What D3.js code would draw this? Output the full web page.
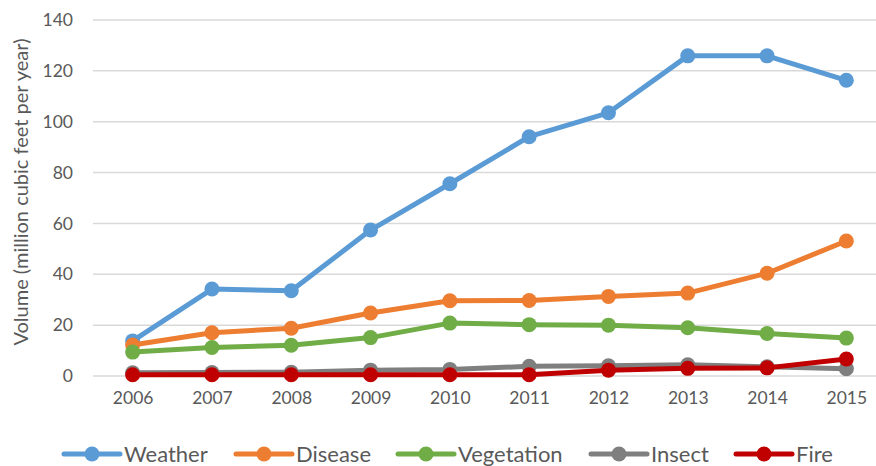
<!DOCTYPE html>
<html>
<head>
<meta charset="utf-8">
<script src="https://cdn.jsdelivr.net/npm/d3@7/dist/d3.min.js"></script>
<style>
  html, body { margin: 0; padding: 0; background: #fff; }
  svg { display: block; font-family: Lato, "Open Sans", sans-serif; }
</style>
</head>
<body>
<svg id="chart" width="876" height="466"></svg>
<script>
// Annual volume by cause, million cubic feet per year
const years = ["2006","2007","2008","2009","2010","2011","2012","2013","2014","2015"];
const weather    = [13.8, 34.2, 33.5, 57.4, 75.6, 94.1, 103.5, 125.9, 125.9, 116.3];
const disease    = [12.2, 17.0, 18.8, 24.8, 29.6, 29.7, 31.3, 32.6, 40.4, 53.1];
const vegetation = [9.4, 11.2, 12.1, 15.1, 20.8, 20.2, 20.0, 19.0, 16.7, 14.9];
const insect     = [1.3, 1.4, 1.5, 2.3, 2.6, 3.8, 4.0, 4.4, 3.6, 2.9];
const fire       = [0.5, 0.5, 0.5, 0.5, 0.5, 0.5, 2.3, 3.0, 3.2, 6.7];
const yTicks = [0, 20, 40, 60, 80, 100, 120, 140];
const seriesNames = ["Weather", "Disease", "Vegetation", "Insect", "Fire"];
const seriesColors = ["#5B9BD5", "#ED7D31", "#70AD47", "#7F7F7F", "#C00000"];

const series = [weather, disease, vegetation, insect, fire].map((v, i) => ({
  name: seriesNames[i], color: seriesColors[i], values: v
}));

const svg = d3.select("#chart");
const plotLeft = 93, plotRight = 886, plotTop = 20, plotBottom = 376;

const x = d3.scalePoint().domain(years).range([plotLeft, plotRight]).padding(0.5);
const y = d3.scaleLinear().domain([0, 140]).range([plotBottom, plotTop]);

// Horizontal gridlines
svg.append("g")
  .selectAll("line")
  .data(yTicks)
  .join("line")
  .attr("x1", plotLeft).attr("x2", 876)
  .attr("y1", d => y(d)).attr("y2", d => y(d))
  .attr("stroke", "#D9D9D9").attr("stroke-width", 1.5);

// Y axis labels
const yAxis = svg.append("g")
  .attr("transform", `translate(${plotLeft},0)`)
  .call(d3.axisLeft(y).tickValues(yTicks).tickSize(0).tickPadding(20));
yAxis.select(".domain").remove();
yAxis.selectAll("text")
  .attr("fill", "#595959").style("font-size", "17.5px").style("font-family", "Lato, sans-serif");

// X axis labels
const xAxis = svg.append("g")
  .attr("transform", `translate(0,${plotBottom})`)
  .call(d3.axisBottom(x).tickSize(0).tickPadding(16));
xAxis.select(".domain").remove();
xAxis.selectAll("text")
  .attr("fill", "#595959").style("font-size", "17.5px").style("font-family", "Lato, sans-serif");

// Y axis title
svg.append("text")
  .attr("transform", "translate(28,192) rotate(-90)")
  .attr("text-anchor", "middle")
  .attr("fill", "#595959")
  .style("font-size", "20px")
  .text("Volume (million cubic feet per year)");

// Series lines and markers
const line = d3.line().x((d, i) => x(years[i])).y(d => y(d));
const plot = svg.append("g");
series.forEach(s => {
  const g = plot.append("g");
  g.append("path")
    .attr("d", line(s.values))
    .attr("fill", "none")
    .attr("stroke", s.color)
    .attr("stroke-width", 5)
    .attr("stroke-linejoin", "round")
    .attr("stroke-linecap", "round");
  g.selectAll("circle")
    .data(s.values)
    .join("circle")
    .attr("cx", (d, i) => x(years[i]))
    .attr("cy", d => y(d))
    .attr("r", 7.5)
    .attr("fill", s.color);
});

// Legend
const legendX = [64, 236, 398, 591, 736];
const legend = svg.append("g").attr("transform", "translate(0,454)");
series.forEach((s, i) => {
  const g = legend.append("g").attr("transform", `translate(${legendX[i]},0)`);
  g.append("line")
    .attr("x1", 0).attr("x2", 56).attr("y1", 0).attr("y2", 0)
    .attr("stroke", s.color).attr("stroke-width", 5).attr("stroke-linecap", "round");
  g.append("circle").attr("cx", 28).attr("cy", 0).attr("r", 7.5).attr("fill", s.color);
  g.append("text")
    .attr("x", 60).attr("y", 0).attr("dy", "0.35em")
    .attr("fill", "#595959")
    .style("font-size", "22px")
    .text(s.name);
});
</script>
</body>
</html>
